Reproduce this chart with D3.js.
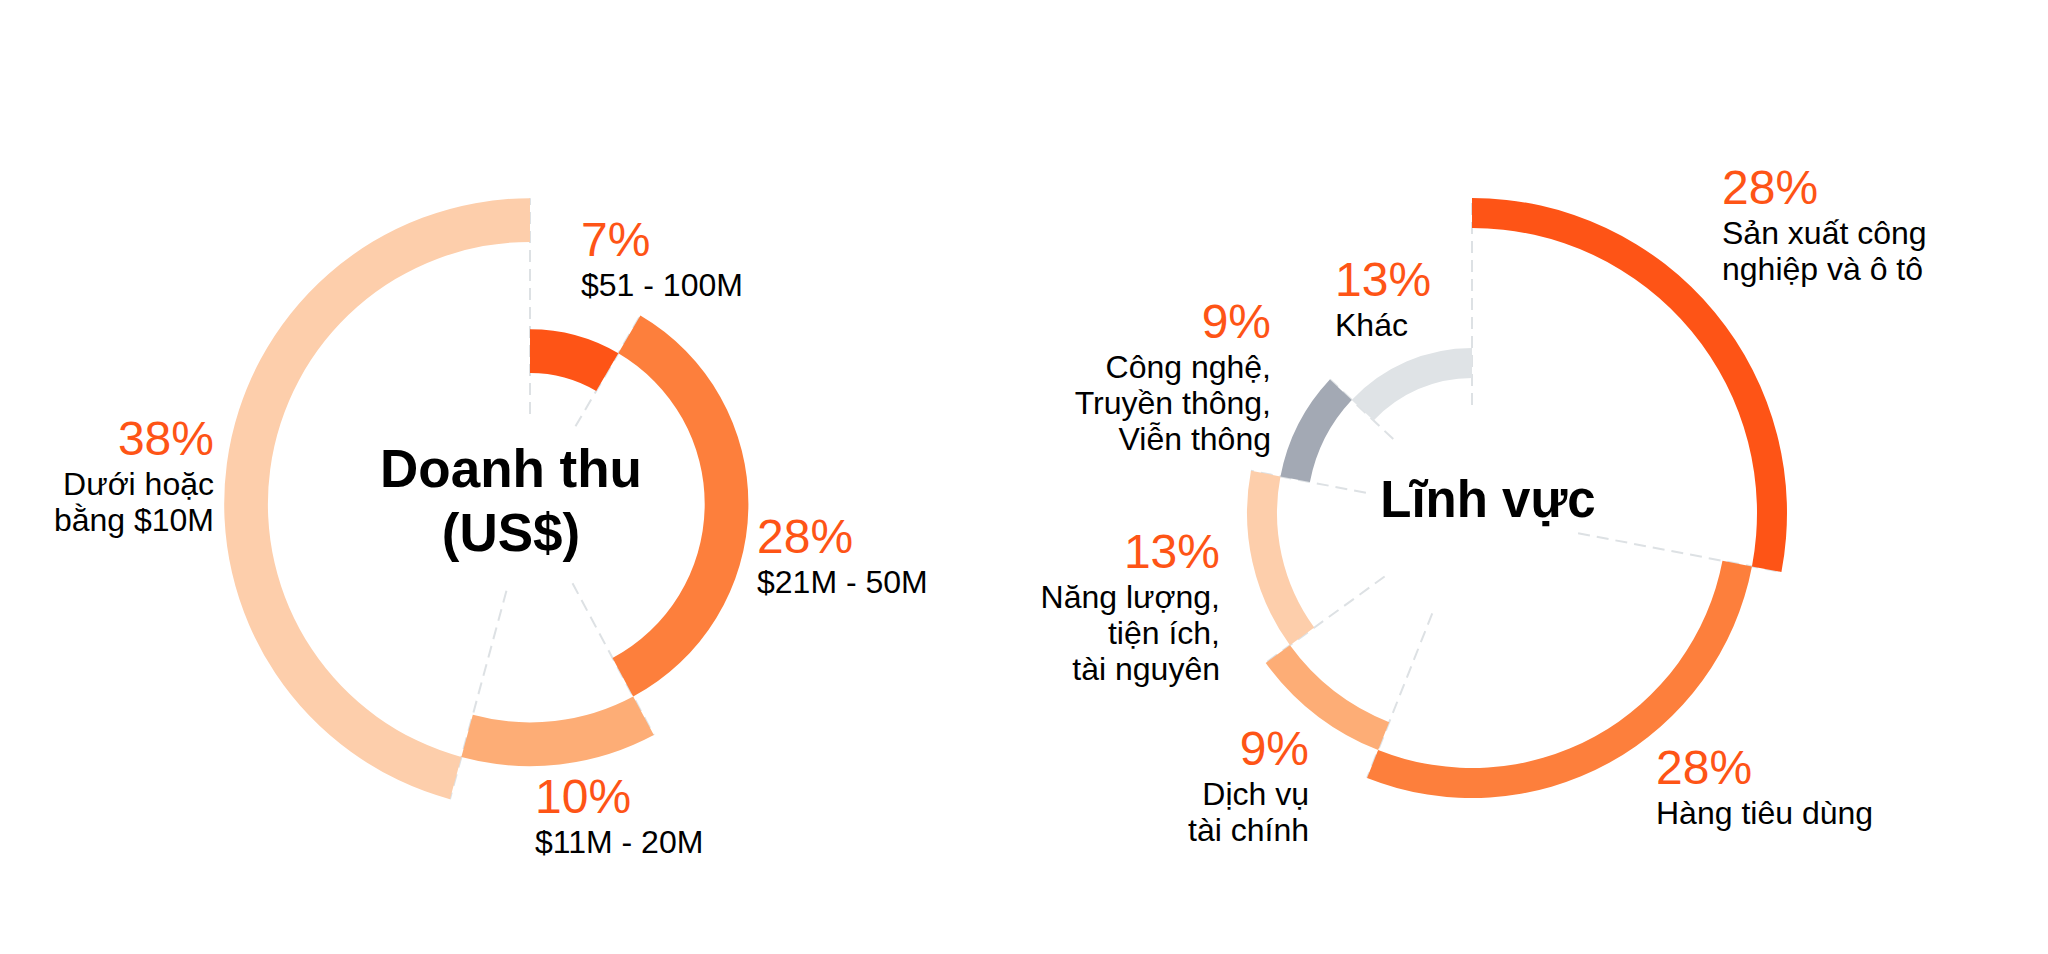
<!DOCTYPE html>
<html lang="vi">
<head>
<meta charset="utf-8">
<title>Doanh thu và Lĩnh vực</title>
<style>
  body { margin: 0; background: white; font-family: "Liberation Sans", Arial, Helvetica, sans-serif; }
  .pct { fill: #fe5416; font-size: 48px; }
  .lbl { fill: #000; font-size: 32px; }
  .title { fill: #000; font-size: 53px; font-weight: bold; }
  .guide { stroke: #dde1e4; stroke-width: 2; stroke-dasharray: 12 7; fill: none; }
</style>
</head>
<body>
<div id="chart"></div>
<script src="https://d3js.org/d3.v7.min.js"></script>
<script>
// --- Doanh thu (US$) ---
var revPct = [7, 28, 10, 38];
var revLabels = [["$51 - 100M"], ["$21M - 50M"], ["$11M - 20M"], ["Dưới hoặc", "bằng $10M"]];
var revColors = ["#fe5416", "#fd7f3c", "#fdad76", "#fdceab"];
var revTitle = ["Doanh thu", "(US$)"];

// --- Lĩnh vực ---
var secPct = [28, 28, 9, 13, 9, 13];
var secLabels = [
  ["Sản xuất công", "nghiệp và ô tô"],
  ["Hàng tiêu dùng"],
  ["Dịch vụ", "tài chính"],
  ["Năng lượng,", "tiện ích,", "tài nguyên"],
  ["Công nghệ,", "Truyền thông,", "Viễn thông"],
  ["Khác"]
];
var secColors = ["#fe5416", "#fd7f3c", "#fdad76", "#fdceab", "#a3a9b4", "#dfe3e6"];
var secTitle = ["Lĩnh vực"];

// layout (positions relative to each ring centre)
var revLayout = {
  cx: 530, cy: 504, r0: 131, step: 43.7, thick: 43.7, dashR: 90,
  titleSize: 53,
  title: { dx: -19, dy: -17, lh: 64 },
  labels: [
    { dx: 51, dy: -248, anchor: "start" },
    { dx: 227, dy: 49, anchor: "start" },
    { dx: 5, dy: 309, anchor: "start" },
    { dx: -316, dy: -49, anchor: "end" }
  ]
};
var secLayout = {
  cx: 1472, cy: 513, r0: 285, step: -30, thick: 30, dashR: 108,
  titleSize: 51,
  title: { dx: 16, dy: 4, lh: 64 },
  labels: [
    { dx: 250, dy: -309, anchor: "start" },
    { dx: 184, dy: 271, anchor: "start" },
    { dx: -163, dy: 252, anchor: "end" },
    { dx: -252, dy: 55, anchor: "end" },
    { dx: -201, dy: -175, anchor: "end" },
    { dx: -137, dy: -217, anchor: "start" }
  ]
};

var width = 2048, height = 954;

var svg = d3.select("#chart").append("svg")
  .attr("width", width)
  .attr("height", height);

function drawRing(pct, labels, colors, title, L) {
  var g = svg.append("g").attr("transform", "translate(" + L.cx + "," + L.cy + ")");

  var pie = d3.pie().sort(null).value(function(d) { return d; });
  var slices = pie(pct);

  // each slice sits on its own ring, stepping outwards (or inwards)
  var innerR = d3.scaleLinear().domain([0, 1]).range([L.r0, L.r0 + L.step]);
  slices.forEach(function(s, i) {
    s.r0 = innerR(i);
    s.r1 = s.r0 + L.thick;
  });

  // dashed guides at slice boundaries
  slices.forEach(function(s, i) {
    var prev = slices[(i - 1 + slices.length) % slices.length];
    var a = s.startAngle;
    var rEnd = Math.max(s.r1, prev.r1);
    g.append("line")
      .attr("class", "guide")
      .attr("x1", L.dashR * Math.sin(a))
      .attr("y1", -L.dashR * Math.cos(a))
      .attr("x2", rEnd * Math.sin(a))
      .attr("y2", -rEnd * Math.cos(a));
  });

  var arc = d3.arc()
    .innerRadius(function(d) { return d.r0; })
    .outerRadius(function(d) { return d.r1; });

  g.selectAll("path.slice")
    .data(slices)
    .enter()
    .append("path")
    .attr("class", "slice")
    .attr("d", arc)
    .attr("fill", function(d, i) { return colors[i]; });

  // labels
  slices.forEach(function(s, i) {
    var p = L.labels[i];
    var t = g.append("g").attr("transform", "translate(" + p.dx + "," + p.dy + ")");
    t.append("text")
      .attr("class", "pct")
      .attr("text-anchor", p.anchor)
      .text(pct[i] + "%");
    labels[i].forEach(function(line, j) {
      t.append("text")
        .attr("class", "lbl")
        .attr("text-anchor", p.anchor)
        .attr("y", 40 + j * 36)
        .text(line);
    });
  });

  // centre title
  title.forEach(function(line, j) {
    g.append("text")
      .attr("class", "title")
      .attr("text-anchor", "middle")
      .attr("font-size", L.titleSize)
      .style("font-size", L.titleSize + "px")
      .attr("x", L.title.dx)
      .attr("y", L.title.dy + j * L.title.lh)
      .text(line);
  });
}

drawRing(revPct, revLabels, revColors, revTitle, revLayout);
drawRing(secPct, secLabels, secColors, secTitle, secLayout);
</script>
</body>
</html>
